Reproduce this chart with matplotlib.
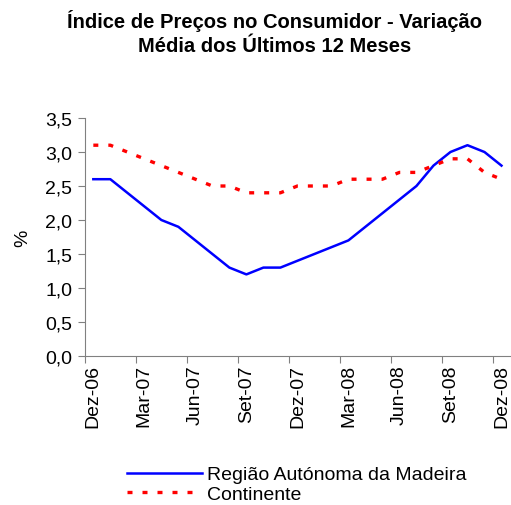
import numpy as np
import matplotlib
matplotlib.use('Agg')
import matplotlib.pyplot as plt

plt.rcParams['font.family'] = ['Liberation Sans', 'DejaVu Sans']

meses = ['Dez-06', 'Jan-07', 'Fev-07', 'Mar-07', 'Abr-07', 'Mai-07', 'Jun-07',
         'Jul-07', 'Ago-07', 'Set-07', 'Out-07', 'Nov-07', 'Dez-07', 'Jan-08',
         'Fev-08', 'Mar-08', 'Abr-08', 'Mai-08', 'Jun-08', 'Jul-08', 'Ago-08',
         'Set-08', 'Out-08', 'Nov-08', 'Dez-08']
madeira = [2.6, 2.6, 2.4, 2.2, 2.0, 1.9, 1.7, 1.5, 1.3, 1.2, 1.3, 1.3, 1.4,
           1.5, 1.6, 1.7, 1.9, 2.1, 2.3, 2.5, 2.8, 3.0, 3.1, 3.0, 2.8]
continente = [3.1, 3.1, 3.0, 2.9, 2.8, 2.7, 2.6, 2.5, 2.5, 2.4, 2.4, 2.4, 2.5,
              2.5, 2.5, 2.6, 2.6, 2.6, 2.7, 2.7, 2.8, 2.9, 2.9, 2.7, 2.6]
yticks = [0.0, 0.5, 1.0, 1.5, 2.0, 2.5, 3.0, 3.5]

x = np.arange(len(meses))

fig = plt.figure(figsize=(5.11, 5.06), dpi=100)
ax = fig.add_axes([0.166, 0.2945, 0.832, 0.4703])

l1, = ax.plot(x, madeira, color='#0000FF', lw=1.8, label='Região Autónoma da Madeira')
l2, = ax.plot(x, continente, color='#FF0000', lw=2.4, linestyle=(0, (1.5, 3)),
              dash_capstyle='butt', label='Continente')

ax.set_xlim(-0.5, len(meses) - 0.5)
ax.set_ylim(0, 3.5)
ax.set_yticks(yticks)
ax.set_yticklabels([f'{v:.1f}'.replace('.', ',') for v in yticks], fontsize=14)

# tick marks between categories, labels every 3 months
ax.set_xticks(np.arange(-0.5, len(meses), 3))
ax.set_xticklabels([])
ax.set_xticks(x[::3], minor=True)
ax.set_xticklabels([meses[i] for i in x[::3]], minor=True, rotation=90, fontsize=14)
ax.tick_params(axis='x', which='minor', length=0, pad=6)
ax.tick_params(axis='x', which='major', length=5, color='#808080')
ax.tick_params(axis='y', length=5, color='#808080', pad=4)

for s in ['top', 'right']:
    ax.spines[s].set_visible(False)
for s in ['left', 'bottom']:
    ax.spines[s].set_color('#808080')

ax.set_ylabel('%', fontsize=14, labelpad=10)

fig.text(0.537, 0.98, 'Índice de Preços no Consumidor - Variação\nMédia dos Últimos 12 Meses',
         ha='center', va='top', fontsize=14.5, fontweight='bold', linespacing=1.35)

fig.legend(handles=[l1, l2], loc='upper left', bbox_to_anchor=(0.233, 0.093),
           frameon=False, fontsize=14, handlelength=3.86, handletextpad=0.26,
           labelspacing=0.1, borderaxespad=0)

fig.savefig('out.png', dpi=100)
